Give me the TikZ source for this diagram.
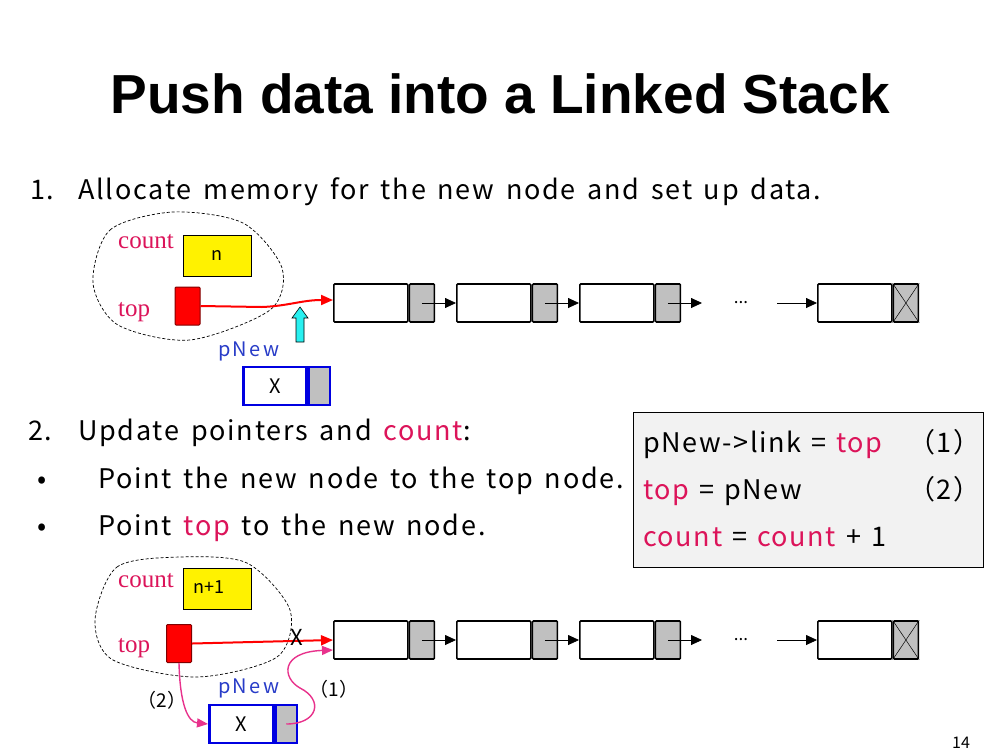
\documentclass[tikz,border=0pt]{standalone}
\usepackage{fontspec}
\setmainfont{Noto Sans CJK JP}
\newfontfamily\titlefont{Liberation Sans}
\newfontfamily\labelfont{Liberation Serif}
\newfontfamily\bodyfont{Noto Sans CJK JP}[LetterSpace=6.5,WordSpace=1.5]
\newfontfamily\codefont{Noto Sans CJK JP}[LetterSpace=6,WordSpace=1.3]
\usetikzlibrary{arrows.meta,positioning}

\definecolor{pinktext}{RGB}{220,20,90}
\definecolor{pinkarrow}{RGB}{232,50,140}
\definecolor{newblue}{RGB}{0,0,225}
\definecolor{labelblue}{RGB}{40,60,200}
\definecolor{cellgray}{RGB}{192,192,192}
\definecolor{boxgray}{RGB}{242,242,242}
\definecolor{arrowcyan}{RGB}{40,240,240}

\newcommand{\bodysize}{\bodyfont\fontsize{27}{30}\selectfont}
\newcommand{\codesize}{\codefont\fontsize{27}{30}\selectfont}

\tikzset{
  datacell/.style={draw, line width=1.6pt, fill=white, rounded corners=1pt,
    minimum width=74pt, minimum height=38pt, inner sep=0pt, anchor=west},
  linkcell/.style={datacell, fill=cellgray, minimum width=25pt},
  nextarrow/.style={-{Triangle[length=11pt,width=10pt]}, line width=0.8pt},
  topbox/.style={draw=red!50!black, fill=red, line width=1pt, rounded corners=1pt,
    minimum width=25pt, minimum height=38pt, inner sep=0pt},
  countbox/.style={draw, fill=yellow, line width=0.8pt, minimum width=68pt,
    minimum height=41pt, inner sep=0pt},
  varlabel/.style={anchor=base west, text=pinktext, font=\labelfont\fontsize{25}{28}\selectfont, inner sep=0pt},
  newlabel/.style={anchor=base west, text=labelblue, font=\fontsize{20}{24}\selectfont\addfontfeature{LetterSpace=12}, inner sep=0pt},
  newdata/.style={draw=newblue, fill=white, line width=2.5pt, minimum width=63pt,
    minimum height=38pt, inner sep=0pt, anchor=west, font=\fontsize{20}{24}\selectfont},
  newlink/.style={newdata, fill=cellgray, minimum width=21pt},
  bodytext/.style={anchor=base west, font=\bodysize, inner sep=0pt},
  codetext/.style={anchor=base west, font=\codesize, inner sep=0pt},
  redarrow/.style={draw=red, line width=2pt, -{Triangle[length=12pt,width=10pt]}},
  pinkline/.style={draw=pinkarrow, line width=1.4pt, -{Triangle[length=11pt,width=9pt]}},
  blob/.style={densely dashed, line width=0.7pt}
}

\begin{document}
\begin{tikzpicture}[x=1pt, y=-1pt]
  \useasboundingbox (0,0) rectangle (1000,750);
  \fill[white] (0,0) rectangle (1000,750);

  % title and text
  \node[anchor=base, font=\titlefont\bfseries\fontsize{55}{60}\selectfont] (title) at (500,113) {Push data into a Linked Stack};
  \node[bodytext] (num1) at (30,199) {1.};
  \node[bodytext] (step1) at (78,199) {Allocate memory for the new node and set up data.};
  \node[bodytext] (num2) at (28,440) {2.};
  \node[bodytext] (step2) at (78,440) {Update pointers and \textcolor{pinktext}{count}:};
  \node[bodytext] (dot1) at (37,488) {•};
  \node[bodytext] (point1) at (98,488) {Point the new node to the top node.};
  \node[bodytext] (dot2) at (37,535) {•};
  \node[bodytext] (point2) at (98,535) {Point \textcolor{pinktext}{top} to the new node.};

  % code box
  \node[draw, fill=boxgray, line width=0.8pt, minimum width=350pt, minimum height=155pt, inner sep=0pt] (code) at (808,489.5) {};
  \node[codetext] (code1) at (643,452) {pNew->link = \textcolor{pinktext}{top}};
  \node[codetext] (code2) at (643,499) {\textcolor{pinktext}{top} = pNew};
  \node[codetext] (code3) at (643,546) {\textcolor{pinktext}{count} = \textcolor{pinktext}{count} + 1};
  \node[codetext] (mark1) at (908,452) {（1）};
  \node[codetext] (mark2) at (908,499) {（2）};

  % linked lists
  \foreach \row/\y in {t/303,b/640}{
    \foreach \n/\x in {1/333,2/456,3/579}{
      \node[datacell] (\row a\n) at (\x,\y) {};
      \node[linkcell] (\row l\n) at (\row a\n.east) {};
    }
    \coordinate (\row end) at (702,\y);
    \coordinate (\row start) at (777,\y);
    \node[datacell] (\row a9) at (817,\y) {};
    \node[linkcell] (\row l9) at (\row a9.east) {};
    \draw[line width=0.5pt] (\row l9.north west) -- (\row l9.south east)
      (\row l9.north east) -- (\row l9.south west);
    \draw[nextarrow] (\row l1.center) -- (\row a2.west);
    \draw[nextarrow] (\row l2.center) -- (\row a3.west);
    \draw[nextarrow] (\row l3.center) -- (\row end);
    \draw[nextarrow] (\row start) -- (\row a9.west);
    \node[font=\fontsize{17}{18}\selectfont] (\row dots) at (741,\y) {...};
  }

  % step 1
  \draw[blob] plot[smooth cycle] coordinates {(93,283) (110,230) (173,212) (243,223) (282,268) (270,310) (190,340) (118,325)};
  \node[varlabel] (count1) at (118,248) {count};
  \node[countbox, font=\fontsize{18}{20}\selectfont] (n1) at (217,255.5) {n};
  \node[varlabel] (top1) at (118,316) {top};
  \node[topbox] (tp1) at (187.5,306) {};
  \draw[redarrow] (tp1.east) -- (262,307) .. controls (288,306) and (302,300) .. ([yshift=3pt]ta1.west);
  \fill[arrowcyan, draw=black, line width=0.6pt] (300,307) -- (308,318) -- (304,318) -- (304,342) -- (296,342) -- (296,318) -- (292,318) -- cycle;
  \node[newlabel] (pnew1) at (218,356) {pNew};
  \node[newdata] (nd1) at (242,386) {X};
  \node[newlink] (nl1) at (nd1.east) {};

  % step 2
  \draw[blob] plot[smooth cycle] coordinates {(95,620) (117,567) (180,557) (247,563) (290,610) (277,657) (197,677) (113,660)};
  \node[varlabel] (count2) at (118,587) {count};
  \node[countbox, anchor=north west, font=\fontsize{18}{20}\selectfont] (n2) at (183,568) {};
  \node[anchor=north west, font=\fontsize{18}{20}\selectfont, inner sep=0pt] (n2text) at (193,580) {n+1};
  \node[varlabel] (top2) at (118,652) {top};
  \node[topbox] (tp2) at (179,643.5) {};
  \draw[redarrow] (tp2.east) -- (ba1.west);
  \node[font=\fontsize{22}{24}\selectfont, inner sep=0pt] (cross) at (297,637) {X};
  \node[newlabel] (pnew2) at (218,693) {pNew};
  \node[newdata, minimum width=64pt] (nd2) at (208,724) {X};
  \node[newlink] (nl2) at (nd2.east) {};
  \draw[pinkline] (tp2.south) .. controls (180,705) and (188,722) .. (nd2.west);
  \draw[pinkline] (nl2.center) .. controls (318,724) and (324,700) .. (300,688)
    .. controls (282,678) and (280,652) .. ([yshift=-10pt]ba1.west);
  \node[font=\fontsize{19}{22}\selectfont, inner sep=0pt] (lab2) at (162,700) {（2）};
  \node[font=\fontsize{19}{22}\selectfont, inner sep=0pt] (lab1) at (334,689) {（1）};

  \node[anchor=base, font=\fontsize{16}{18}\selectfont] (page) at (961,748) {14};
\end{tikzpicture}
\end{document}
